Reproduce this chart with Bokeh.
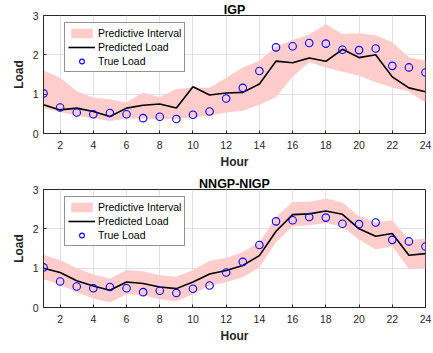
from bokeh.plotting import figure
from bokeh.layouts import column
from bokeh.models import Legend, LegendItem, Title, FixedTicker, Range1d
from bokeh.embed import file_html
from bokeh.resources import INLINE

hours = list(range(1, 25))
true_load = [1.02, 0.66, 0.535, 0.49, 0.52, 0.49, 0.39, 0.425, 0.37, 0.475, 0.56, 0.89,
             1.16, 1.59, 2.19, 2.22, 2.30, 2.285, 2.13, 2.12, 2.16, 1.72, 1.68, 1.55]

igp_pred = [0.73, 0.60, 0.645, 0.56, 0.43, 0.645, 0.72, 0.75, 0.65, 1.19, 0.98, 1.03,
            1.045, 1.26, 1.84, 1.80, 1.92, 1.835, 2.14, 1.93, 2.00, 1.44, 1.16, 1.06]
igp_upper = [1.60, 1.42, 1.08, 0.91, 0.87, 0.79, 1.04, 0.92, 1.13, 1.17, 1.16, 1.42,
             1.68, 1.85, 2.21, 2.38, 2.52, 2.78, 2.53, 2.55, 2.50, 2.32, 1.94, 1.85]
igp_lower = [0.645, 0.545, 0.45, 0.39, 0.32, 0.38, 0.38, 0.37, 0.37, 0.41, 0.45, 0.535,
             0.58, 0.73, 0.92, 1.44, 1.81, 1.68, 1.57, 1.47, 1.30, 1.17, 1.07, 0.78]

nngp_pred = [1.00, 0.89, 0.68, 0.545, 0.44, 0.65, 0.61, 0.52, 0.48, 0.65, 0.85, 0.94,
             1.07, 1.32, 1.94, 2.36, 2.38, 2.455, 2.37, 2.00, 1.81, 1.88, 1.33, 1.37]
nngp_upper = [1.34, 1.21, 1.00, 0.84, 0.74, 0.955, 0.92, 0.82, 0.78, 0.955, 1.19, 1.26,
              1.41, 1.66, 2.30, 2.68, 2.69, 2.77, 2.67, 2.32, 2.17, 2.22, 1.72, 1.75]
nngp_lower = [0.72, 0.58, 0.39, 0.23, 0.13, 0.34, 0.31, 0.21, 0.16, 0.34, 0.55, 0.64,
              0.77, 1.02, 1.66, 2.06, 2.09, 2.15, 2.06, 1.72, 1.48, 1.55, 0.98, 1.01]

x_ticks = [2, 4, 6, 8, 10, 12, 14, 16, 18, 20, 22, 24]
y_ticks = [0, 1, 2, 3]

FONT = "Liberation Sans"
DARK = "#262626"


def make_panel(title, pred, upper, lower, height, top, bottom):
    p = figure(width=433, height=height, output_backend="svg", toolbar_location=None,
               x_range=Range1d(1, 24), y_range=Range1d(0, 3),
               min_border_left=43, min_border_right=8,
               min_border_top=top, min_border_bottom=bottom)
    t = Title(text=title, align="center", text_font=FONT, text_font_size="12.5px",
              text_font_style="bold", text_color="#000000", standoff=-3, offset=0)
    p.add_layout(t, "above")
    band = p.varea(x=hours, y1=lower, y2=upper, fill_color="#ffcccc", fill_alpha=1.0)
    line = p.line(hours, pred, line_color="black", line_width=1.6)
    pts = p.scatter(hours, true_load, size=7.5, marker="circle", fill_color=None,
                    line_color="#0000ff", line_width=1.1)

    for ax in (p.xaxis[0], p.yaxis[0]):
        ax.major_tick_in = 3
        ax.major_tick_out = 0
        ax.minor_tick_line_color = None
        ax.axis_line_color = DARK
        ax.major_tick_line_color = DARK
        ax.major_label_text_font = FONT
        ax.major_label_text_font_size = "10.5px"
        ax.major_label_text_color = DARK
        ax.axis_label_text_font = FONT
        ax.axis_label_text_font_size = "12px"
        ax.axis_label_text_font_style = "bold"
        ax.axis_label_text_color = DARK
    p.xaxis.ticker = FixedTicker(ticks=x_ticks)
    p.yaxis.ticker = FixedTicker(ticks=y_ticks)
    p.xaxis.axis_label = "Hour"
    p.yaxis.axis_label = "Load"
    p.xaxis.major_label_standoff = 7
    p.yaxis.major_label_standoff = 5
    p.xaxis.axis_label_standoff = 3
    p.yaxis.axis_label_standoff = 4

    p.xgrid.ticker = FixedTicker(ticks=x_ticks)
    p.ygrid.ticker = FixedTicker(ticks=y_ticks)
    p.grid.grid_line_color = "#e0e0e0"
    p.grid.grid_line_width = 1
    p.outline_line_color = DARK
    p.outline_line_width = 1
    p.background_fill_color = "white"
    p.border_fill_color = "white"

    legend = Legend(items=[LegendItem(label="Predictive Interval", renderers=[band]),
                           LegendItem(label="Predicted Load", renderers=[line]),
                           LegendItem(label="True Load", renderers=[pts])],
                    location=(21, 118 - 11 - 46),
                    label_text_font=FONT, label_text_font_size="10.5px",
                    label_text_color="#000000",
                    glyph_width=27, glyph_height=12, label_height=14,
                    label_standoff=3, spacing=0, padding=3, margin=0,
                    border_line_color=DARK, border_line_width=1,
                    background_fill_color="white", background_fill_alpha=1.0)
    p.add_layout(legend, "center")
    return p


p1 = make_panel("IGP", igp_pred, igp_upper, igp_lower, 176, 15, 43)
p2 = make_panel("NNGP-NIGP", nngp_pred, nngp_upper, nngp_lower, 177, 13, 46)

layout = column(p1, p2, spacing=0)
open("out.html", "w").write(file_html(layout, INLINE))
